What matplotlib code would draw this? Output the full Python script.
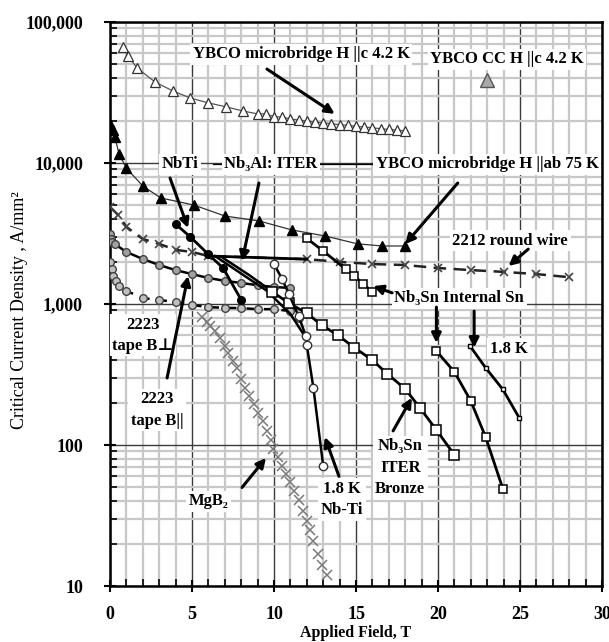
import numpy as np
import matplotlib
matplotlib.use('Agg')
import matplotlib.pyplot as plt
from matplotlib.ticker import MultipleLocator, LogLocator, FuncFormatter, NullFormatter

plt.rcParams['font.family'] = ['Liberation Serif', 'DejaVu Serif']
plt.rcParams['font.weight'] = 'bold'

# ---- data (field in T, Jc in A/mm^2) ----
ybco_c_B = [0.8, 1.1, 1.65, 2.75, 3.85, 4.9, 6.0, 7.1, 8.1, 9.0, 9.5, 10.0, 10.5, 11.0, 11.5,
            12.0, 12.5, 13.0, 13.5, 14.0, 14.5, 15.0, 15.5, 16.0, 16.5, 17.0, 17.5, 18.0]
ybco_c_J = [66500, 57400, 47200, 37500, 32400, 28900, 26700, 25000, 23400, 22300, 22300, 21300, 21200,
            20500, 20200, 19800, 19500, 19300, 19000, 18700, 18500, 18200, 18000, 17800, 17500,
            17300, 17100, 16900]

ybco_cc_B = [23.0]
ybco_cc_J = [38800]

ybco_ab_B = [0, 0.2, 0.3, 0.55, 1.0, 2.0, 3.1, 5.1, 7.0, 9.1, 11.1, 13.1, 15.1, 16.6, 18.0]
ybco_ab_J = [18900, 17100, 15300, 11600, 9200, 6870, 5650, 5040, 4210, 3880, 3350, 3040, 2670, 2580, 2580]

nbti_B = [4.0, 4.9, 6.0, 6.9, 8.0]
nbti_J = [3690, 2990, 2250, 1800, 1070]

bi2212_B = [0, 0.5, 1, 2, 3, 4, 5, 6, 12, 14, 16, 18, 20, 22, 24, 26, 28]
bi2212_J = [4880, 4280, 3520, 2890, 2670, 2420, 2340, 2190, 2080, 1990, 1920, 1890, 1800, 1740, 1690, 1630, 1550]

b2223_par_B = [0, 0.05, 0.1, 0.3, 1, 2, 3, 4, 5, 6, 7, 8, 9, 10, 11]
b2223_par_J = [3140, 2900, 2750, 2660, 2340, 2085, 1890, 1740, 1630, 1530, 1460, 1410, 1360, 1320, 1300]

b2223_perp_B = [0, 0.1, 0.2, 0.35, 0.55, 1.0, 2, 3, 4, 5, 6, 7, 8, 9, 10, 11, 11.5]
b2223_perp_J = [2000, 1770, 1580, 1450, 1340, 1240, 1100, 1070, 1030, 985, 950, 940, 935, 920, 920, 890, 800]

nb3al_B = [6.4, 9.57, 11.0, 11.8]
nb3al_J = [2190, 1240, 850, 610]

nb3al_b_B = [6.9, 8.5, 9.9]
nb3al_b_J = [2120, 1600, 1220]

nb3sn_int_B = [12, 13, 14.4, 14.9, 15.45, 16.0]
nb3sn_int_J = [2920, 2375, 1760, 1580, 1380, 1220]

nb3sn_int2_B = [19.9, 21.0, 22.0, 22.9, 23.95]
nb3sn_int2_J = [464, 330, 205, 114, 49]

nb3sn_18_B = [21.95, 22.9, 23.95, 24.96]
nb3sn_18_J = [504, 353, 248, 155]

bronze_B = [9.9, 10.9, 12.0, 12.9, 13.9, 14.9, 16.0, 16.9, 18.0, 18.9, 19.9, 21.0]
bronze_J = [1220, 1016, 860, 710, 600, 490, 400, 320, 250, 183, 128, 85]

nbti18_B = [10.0, 10.5, 10.9, 11.5, 11.95, 12.0, 12.4, 13.0]
nbti18_J = [1920, 1500, 1180, 820, 590, 510, 255, 71]

mgb2_B = [5.6, 5.9, 6.1, 6.4, 6.7, 7.0, 7.2, 7.5, 7.75, 8.0, 8.25, 8.5, 8.75, 9.05, 9.35, 9.55,
          9.8, 9.95, 10.25, 10.5, 10.75, 10.95, 11.2, 11.5, 11.75, 12.0, 12.2, 12.4, 12.7, 12.95, 13.25]
mgb2_J = [810, 750, 700, 645, 570, 505, 450, 395, 350, 292, 255, 223, 194, 170, 148, 126,
          108, 93, 82, 71, 62, 55, 47, 41, 34, 29, 25, 21, 17, 14, 12]

# ---- figure ----
fig = plt.figure(figsize=(6.09, 6.42), dpi=100)
ax = fig.add_axes([0.1806, 0.0872, 0.808, 0.8785])
ax.set_yscale('log')
ax.set_xlim(0, 30)
ax.set_ylim(10, 100000)

ax.xaxis.set_major_locator(MultipleLocator(5))
ax.xaxis.set_minor_locator(MultipleLocator(1))
ax.yaxis.set_major_locator(LogLocator(base=10))
ax.yaxis.set_minor_locator(LogLocator(base=10, subs=np.arange(2, 10)))
ax.yaxis.set_major_formatter(FuncFormatter(lambda v, p: f'{int(round(v)):,}'))
ax.yaxis.set_minor_formatter(NullFormatter())

ax.grid(which='minor', color='#c8c8c8', lw=1.6, zorder=0)
ax.grid(which='major', color='#3a3a3a', lw=1.0, zorder=0)
ax.set_axisbelow(True)
for s in ax.spines.values():
    s.set_linewidth(1.8)
ax.tick_params(which='major', direction='inout', length=9, width=1.5, labelsize=13)
ax.tick_params(which='minor', direction='in', length=5, width=1.2)
ax.tick_params(axis='x', which='major', pad=10)
ax.tick_params(axis='y', which='major', pad=15)
for t in ax.get_xticklabels() + ax.get_yticklabels():
    t.set_fontweight('bold')

ax.set_xlabel('Applied Field, T', fontsize=11.5, fontweight='bold', labelpad=1)
ax.set_ylabel('Critical Current Density , A/mm²', fontsize=13, fontweight='normal',
              va='center', ha='center')
ax.yaxis.set_label_coords(-0.183, 0.489)

# ---- series ----
ax.plot(ybco_c_B, ybco_c_J, '-', color='#555555', lw=0.9, marker='^', ms=6.5, mfc='white', mec='#333333', mew=0.9, zorder=3)
ax.plot(ybco_cc_B, ybco_cc_J, ls='none', marker='^', ms=10, mfc='#a8a8a8', mec='#555555', zorder=3)
ax.plot(ybco_ab_B, ybco_ab_J, '-', color='#333333', lw=0.9, marker='^', ms=6.5, mfc='black', mec='black', zorder=3)
ax.plot(bi2212_B, bi2212_J, color='#222222', lw=1.8, ls=(0, (5, 3)), marker='x', ms=6, mec='#444444', mew=1.2, zorder=3)
ax.plot(bi2212_B[7:9], bi2212_J[7:9], color='black', lw=2, zorder=3)
ax.plot(b2223_par_B, b2223_par_J, '-', color='black', lw=1.8, marker='o', ms=5.5, mfc='#a0a0a0', mec='#404040', zorder=3)
ax.plot(b2223_perp_B, b2223_perp_J, color='black', lw=1.8, ls=(0, (3, 4)), marker='o', ms=5.5, mfc='#c0c0c0', mec='#404040', zorder=3)
ax.plot(nbti_B, nbti_J, '-', color='black', lw=2, marker='o', ms=5.5, mfc='black', mec='black', zorder=4)
ax.plot(nb3al_B, nb3al_J, '-', color='black', lw=1.8, zorder=3)
ax.plot(nb3al_b_B, nb3al_b_J, '-', color='black', lw=1.8, zorder=3)
ax.plot(nb3sn_int_B, nb3sn_int_J, '-', color='black', lw=2, marker='s', ms=6, mfc='white', mec='black', mew=1.1, zorder=4)
ax.plot(nb3sn_int2_B, nb3sn_int2_J, '-', color='black', lw=2, marker='s', ms=6, mfc='white', mec='black', mew=1.1, zorder=4)
ax.plot(nb3sn_18_B, nb3sn_18_J, '-', color='black', lw=2, marker='s', ms=3, mfc='white', mec='black', zorder=4)
ax.plot(bronze_B, bronze_J, '-', color='black', lw=2, marker='s', ms=6.5, mfc='white', mec='black', mew=1.1, zorder=4)
ax.plot(nbti18_B, nbti18_J, '-', color='black', lw=1.8, marker='o', ms=6, mfc='white', mec='#333333', zorder=4)
ax.plot(mgb2_B, mgb2_J, ls='none', marker='x', ms=6.5, mec='#7a7a7a', mew=1.1, zorder=3)

# ---- labels and arrows ----
box = dict(boxstyle='square,pad=0.15', fc='white', ec='none')
lab = dict(fontsize=12, fontweight='bold', ha='center', va='center', bbox=box, zorder=6)
arr = dict(arrowstyle='-|>', color='black', lw=2.2, mutation_scale=14, shrinkA=0, shrinkB=0)


def arrow(tail, head):
    ax.annotate('', xy=head, xytext=tail, arrowprops=arr, zorder=7)


ax.plot([6.3, 16.0], [9800, 9800], color='black', lw=0.9, zorder=5)
ax.text(11.65, 59300, 'YBCO microbridge H ||c 4.2 K', **lab)
ax.text(24.2, 54500, 'YBCO CC H ||c 4.2 K', **lab)
ax.text(4.27, 9800, 'NbTi', **lab)
ax.text(9.8, 9800, 'Nb₃Al: ITER', **lab)
ax.text(23.0, 9800, 'YBCO microbridge H ||ab 75 K', **lab)
ax.text(24.4, 2800, '2212 round wire', **lab)
ax.text(21.3, 1100, 'Nb₃Sn Internal Sn', **lab)
ax.text(24.3, 480, '1.8 K', **lab)
ax.text(2.0, 600, '2223\ntape B⊥', linespacing=1.45, **lab)
ax.text(2.87, 177, '2223\ntape B||', linespacing=1.45, **lab)
ax.text(6.0, 40, 'MgB₂', **lab)
ax.text(14.15, 41, '1.8 K\nNb-Ti', linespacing=1.45, **lab)
ax.text(17.7, 69, 'Nb₃Sn\nITER\nBronze', linespacing=1.45, **lab)

arrow((9.57, 46400), (13.7, 22300))
arrow((3.66, 7830), (4.76, 3460))
arrow((9.08, 7210), (8.05, 2020))
arrow((21.2, 7210), (18.0, 2660))
arrow((25.5, 2450), (24.3, 1860))
arrow((17.2, 1200), (16.05, 1340))
arrow((19.9, 950), (19.9, 530))
arrow((22.2, 890), (22.2, 490))
arrow((3.48, 299), (4.76, 1580))
arrow((8.05, 50), (9.51, 81))
arrow((13.96, 60), (13.1, 114))
arrow((17.26, 126), (18.4, 216))

fig.savefig('out.png', dpi=100)
